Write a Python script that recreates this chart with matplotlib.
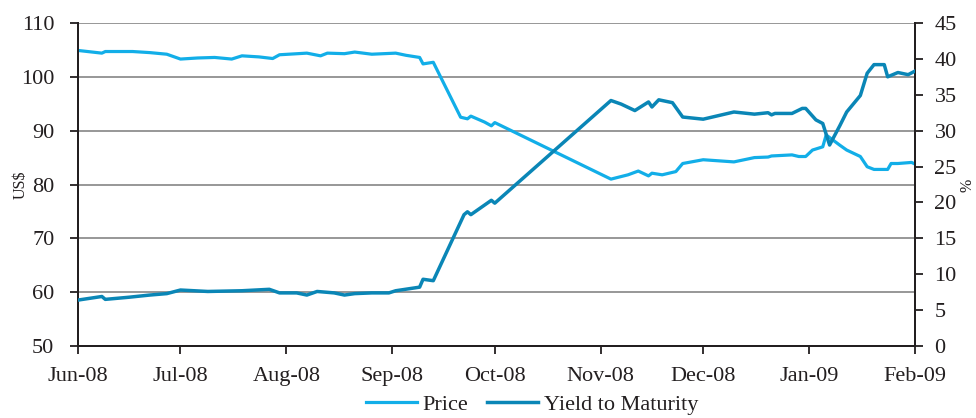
import numpy as np
import pandas as pd
import matplotlib.pyplot as plt
import matplotlib.dates as mdates

plt.rcParams['font.family'] = ['Liberation Serif', 'DejaVu Serif']

# data
price_dates = ['2008-06-01', '2008-06-08', '2008-06-09', '2008-06-17', '2008-06-22', '2008-06-27',
               '2008-07-01', '2008-07-06', '2008-07-11', '2008-07-16', '2008-07-19', '2008-07-24',
               '2008-07-28', '2008-07-30', '2008-08-07', '2008-08-11', '2008-08-13', '2008-08-18',
               '2008-08-21', '2008-08-26', '2008-09-02', '2008-09-05', '2008-09-09', '2008-09-10',
               '2008-09-13', '2008-09-21', '2008-09-23', '2008-09-24', '2008-09-28', '2008-09-30',
               '2008-10-01', '2008-11-04', '2008-11-09', '2008-11-12', '2008-11-15', '2008-11-16',
               '2008-11-19', '2008-11-23', '2008-11-25', '2008-12-01', '2008-12-10', '2008-12-16',
               '2008-12-20', '2008-12-21', '2008-12-27', '2008-12-29', '2008-12-31', '2009-01-02',
               '2009-01-05', '2009-01-06', '2009-01-10', '2009-01-12', '2009-01-16', '2009-01-18',
               '2009-01-20', '2009-01-24', '2009-01-25', '2009-01-27', '2009-01-31', '2009-02-01']
price = [104.9, 104.4, 104.7, 104.7, 104.5, 104.2,
         103.3, 103.5, 103.6, 103.3, 103.9, 103.7,
         103.4, 104.1, 104.4, 103.9, 104.4, 104.3,
         104.6, 104.2, 104.4, 104.0, 103.6, 102.4,
         102.7, 92.5, 92.2, 92.7, 91.6, 90.9,
         91.5, 81.0, 81.8, 82.5, 81.6, 82.1,
         81.8, 82.4, 83.9, 84.6, 84.2, 85.0,
         85.1, 85.3, 85.5, 85.2, 85.2, 86.4,
         87.0, 89.2, 87.3, 86.4, 85.2, 83.3,
         82.8, 82.8, 83.9, 83.9, 84.1, 83.8]

ytm_dates = ['2008-06-01', '2008-06-08', '2008-06-09', '2008-06-16', '2008-06-22', '2008-06-27',
             '2008-07-01', '2008-07-09', '2008-07-19', '2008-07-27', '2008-07-30', '2008-08-04',
             '2008-08-07', '2008-08-10', '2008-08-15', '2008-08-18', '2008-08-21', '2008-08-26',
             '2008-08-31', '2008-09-02', '2008-09-09', '2008-09-10', '2008-09-13', '2008-09-22',
             '2008-09-23', '2008-09-24', '2008-09-30', '2008-10-01', '2008-11-04', '2008-11-07',
             '2008-11-11', '2008-11-15', '2008-11-16', '2008-11-18', '2008-11-22', '2008-11-25',
             '2008-12-01', '2008-12-10', '2008-12-16', '2008-12-20', '2008-12-21', '2008-12-22',
             '2008-12-27', '2008-12-30', '2008-12-31', '2009-01-03', '2009-01-05', '2009-01-07',
             '2009-01-10', '2009-01-12', '2009-01-16', '2009-01-18', '2009-01-20', '2009-01-23',
             '2009-01-24', '2009-01-27', '2009-01-30', '2009-02-01']
ytm = [6.4, 6.9, 6.5, 6.8, 7.1, 7.3,
       7.8, 7.6, 7.7, 7.9, 7.4, 7.4,
       7.1, 7.6, 7.4, 7.1, 7.3, 7.4,
       7.4, 7.7, 8.2, 9.3, 9.1, 18.3,
       18.7, 18.3, 20.3, 19.9, 34.2, 33.7,
       32.8, 34.0, 33.3, 34.3, 33.9, 31.9,
       31.6, 32.6, 32.3, 32.5, 32.2, 32.4,
       32.4, 33.1, 33.1, 31.5, 31.0, 28.0,
       30.7, 32.6, 34.9, 38.0, 39.2, 39.2,
       37.5, 38.1, 37.8, 38.3]

price_color = '#12aee8'
ytm_color = '#0a86b6'
ink = '#231f20'

fig = plt.figure(figsize=(9.76, 4.18), dpi=100)
ax = fig.add_axes([0.0799, 0.1722, 0.8576, 0.7728])
ax2 = ax.twinx()

ax.plot(pd.to_datetime(price_dates), price, color=price_color, lw=2.3, label='Price', zorder=3)
ax2.plot(pd.to_datetime(ytm_dates), ytm, color=ytm_color, lw=2.5, label='Yield to Maturity', zorder=3)

ax.set_xlim(pd.Timestamp('2008-06-01'), pd.Timestamp('2009-02-01'))
ax.set_ylim(50, 110)
ax.set_yticks(np.arange(50, 111, 10))
ax2.set_ylim(0, 45)
ax2.set_yticks(np.arange(0, 46, 5))

ax.xaxis.set_major_locator(mdates.MonthLocator())
ax.xaxis.set_major_formatter(mdates.DateFormatter('%b-%y'))

ax.grid(axis='y', color='#7a7a7a', lw=1.1)
ax.set_axisbelow(True)

for a in (ax, ax2):
    a.spines['top'].set_visible(False)
    for s in ('left', 'right', 'bottom'):
        a.spines[s].set_color(ink)
        a.spines[s].set_linewidth(1.4)
    a.tick_params(colors=ink, labelsize=16, width=1.3, length=6)

ax.tick_params(axis='y', pad=11)
ax.tick_params(axis='x', pad=9)
ax2.tick_params(axis='y', pad=8)

fig.text(0.021, 0.557, 'US$', rotation=90, ha='center', va='center', fontsize=11.5, color=ink)
fig.text(0.991, 0.557, '%', rotation=90, ha='center', va='center', fontsize=11.5, color=ink)

h1, l1 = ax.get_legend_handles_labels()
h2, l2 = ax2.get_legend_handles_labels()
fig.legend(h1 + h2, l1 + l2, loc='center', bbox_to_anchor=(0.545, 0.032), ncol=2,
           frameon=False, fontsize=16, handlelength=2.3, handletextpad=0.25,
           columnspacing=0.85, labelcolor=ink, borderpad=0.1)

fig.savefig('out.png', dpi=100)
